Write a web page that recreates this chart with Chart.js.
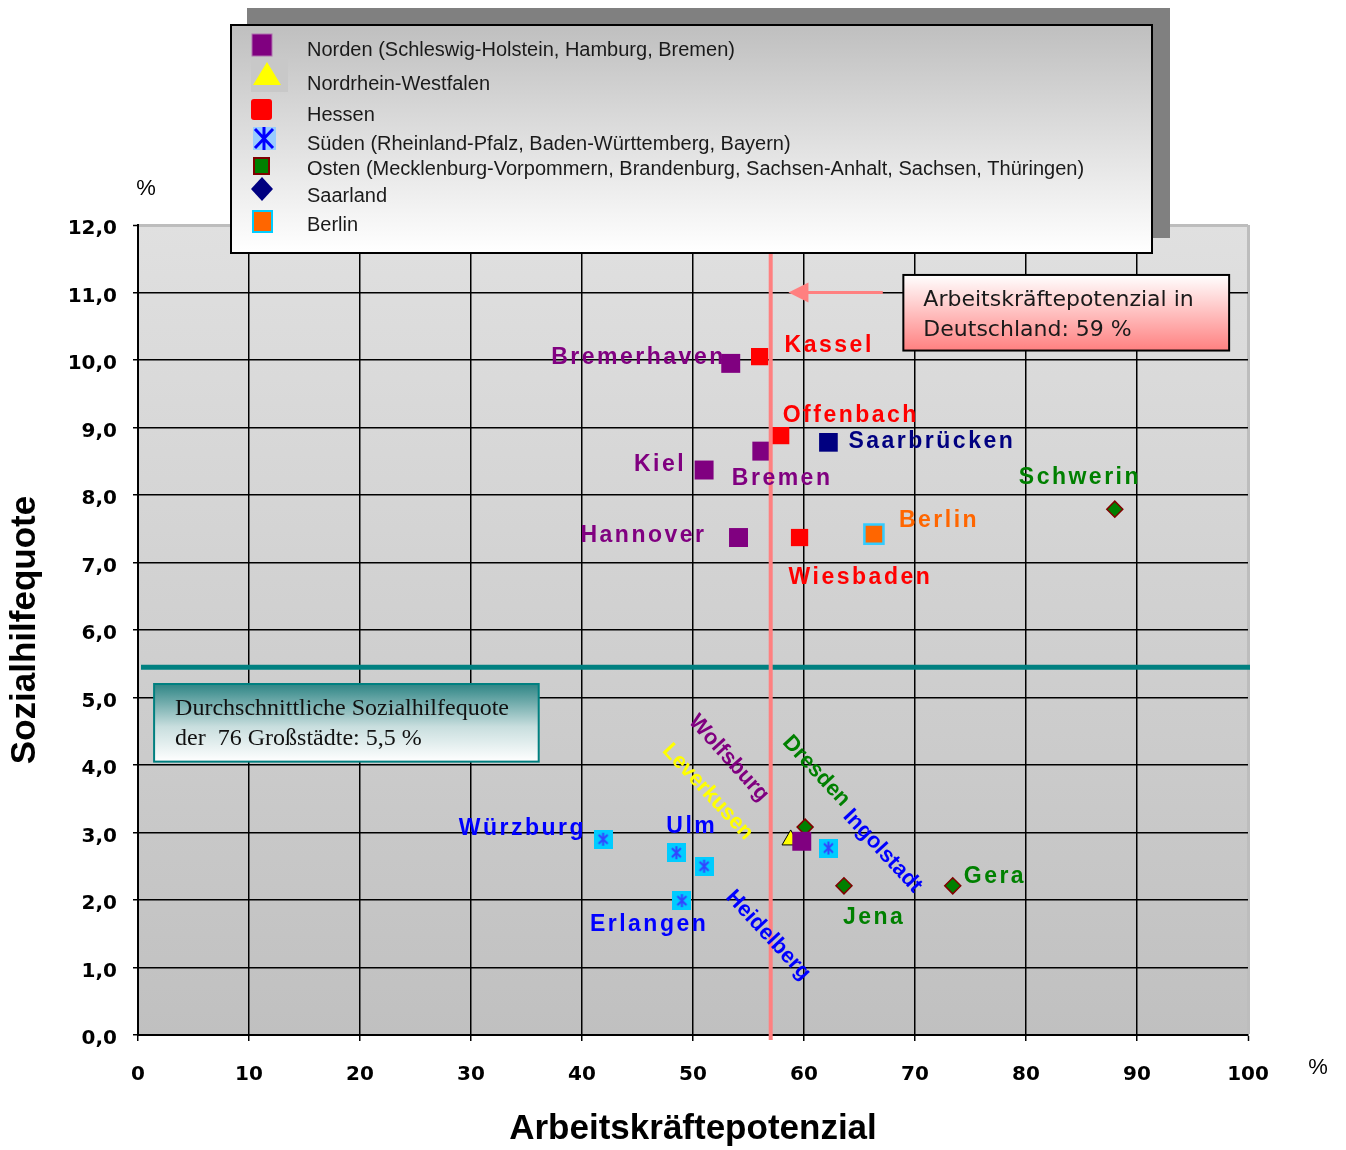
<!DOCTYPE html>
<html>
<head>
<meta charset="utf-8">
<script src="https://cdn.jsdelivr.net/npm/chart.js@4.4.1/dist/chart.umd.min.js"></script>
<style>
  html, body { margin: 0; padding: 0; background: #fff; }
  #wrap { width: 1346px; height: 1150px; }
</style>
</head>
<body>
<div id="wrap"><canvas id="myChart" width="1346" height="1150"></canvas></div>
<script>
// Norden (Schleswig-Holstein, Hamburg, Bremen)
const nordenCities = ["Bremerhaven", "Bremen", "Kiel", "Hannover", "Wolfsburg"];
const nordenX = [53.4, 56.2, 51.0, 54.1, 59.8];
const nordenY = [9.95, 8.65, 8.37, 7.37, 2.87];

// Nordrhein-Westfalen
const nrwCities = ["Leverkusen"];
const nrwX = [58.8];
const nrwY = [2.89];

// Hessen
const hessenCities = ["Kassel", "Offenbach", "Wiesbaden"];
const hessenX = [56.0, 57.9, 59.6];
const hessenY = [10.05, 8.88, 7.37];

// Süden (Rheinland-Pfalz, Baden-Württemberg, Bayern)
const suedenCities = ["Würzburg", "Ulm", "Heidelberg", "Erlangen", "Ingolstadt"];
const suedenX = [41.9, 48.5, 51.0, 49.0, 62.2];
const suedenY = [2.90, 2.70, 2.50, 1.99, 2.77];

// Osten
const ostenCities = ["Schwerin", "Dresden", "Jena", "Gera"];
const ostenX = [88.0, 60.1, 63.6, 73.4];
const ostenY = [7.79, 3.08, 2.21, 2.21];

// Saarland
const saarCities = ["Saarbrücken"];
const saarX = [62.2];
const saarY = [8.78];

// Berlin
const berlinCities = ["Berlin"];
const berlinX = [66.3];
const berlinY = [7.42];

// reference lines
const avgSozialhilfe = 5.45;
const avgArbeitskraft = 57;

const xTicks = [0, 10, 20, 30, 40, 50, 60, 70, 80, 90, 100];
const yTicks = [0, 1, 2, 3, 4, 5, 6, 7, 8, 9, 10, 11, 12];

const legendTexts = [
  "Norden (Schleswig-Holstein, Hamburg, Bremen)",
  "Nordrhein-Westfalen",
  "Hessen",
  "Süden (Rheinland-Pfalz, Baden-Württemberg, Bayern)",
  "Osten (Mecklenburg-Vorpommern, Brandenburg, Sachsen-Anhalt, Sachsen, Thüringen)",
  "Saarland",
  "Berlin",
];

// label placement relative to the point: [align, dx, dy, rotation in degrees]
const labelPlace = {
  "Bremerhaven": ["right", -5, -6, 0],
  "Kassel": ["left", 25, -11, 0],
  "Offenbach": ["left", 2, -20, 0],
  "Saarbrücken": ["left", 20, -1, 0],
  "Kiel": ["right", -18, -5, 0],
  "Bremen": ["left", -30, 28, 0],
  "Hannover": ["right", -32, -2, 0],
  "Wiesbaden": ["left", -11, 40, 0],
  "Berlin": ["left", 25, -13, 0],
  "Schwerin": ["left", -96, -32, 0],
  "Würzburg": ["right", -17, -11, 0],
  "Ulm": ["left", -10, -26, 0],
  "Erlangen": ["left", -92, 24, 0],
  "Jena": ["left", -1, 32, 0],
  "Gera": ["left", 11, -9, 0],
  "Wolfsburg": ["center", -73, -83, 48],
  "Leverkusen": ["center", -83, -48, 47],
  "Dresden": ["center", 11, -56, 47],
  "Ingolstadt": ["center", 54, 3, 47],
  "Heidelberg": ["center", 64, 69, 47],
};

function toPoints(xs, ys) {
  return xs.map((x, i) => ({ x: x, y: ys[i] }));
}

// cyan square with blue asterisk for Süden
function makeSuedenMarker() {
  const c = document.createElement("canvas");
  c.width = 19;
  c.height = 19;
  const g = c.getContext("2d");
  g.fillStyle = "#00ccff";
  g.fillRect(0, 0, 19, 19);
  g.strokeStyle = "#3344ff";
  g.lineWidth = 2;
  g.beginPath();
  g.moveTo(9.5, 3); g.lineTo(9.5, 16);
  g.moveTo(5, 5); g.lineTo(14, 14);
  g.moveTo(14, 5); g.lineTo(5, 14);
  g.stroke();
  return c;
}

const datasets = [
  {
    label: legendTexts[0], cities: nordenCities, data: toPoints(nordenX, nordenY),
    pointStyle: "rect", pointRadius: 13.4, backgroundColor: "#800080", borderWidth: 0,
    labelColor: "#800080", legendKind: "tallRect",
  },
  {
    label: legendTexts[1], cities: nrwCities, data: toPoints(nrwX, nrwY),
    pointStyle: "triangle", pointRadius: 10, backgroundColor: "#ffff00", borderColor: "#000", borderWidth: 1,
    labelColor: "#ffff00", legendKind: "triangle",
  },
  {
    label: legendTexts[2], cities: hessenCities, data: toPoints(hessenX, hessenY),
    pointStyle: "rect", pointRadius: 12.2, backgroundColor: "#ff0000", borderWidth: 0,
    labelColor: "#ff0000", legendKind: "roundRect",
  },
  {
    label: legendTexts[3], cities: suedenCities, data: toPoints(suedenX, suedenY),
    pointStyle: makeSuedenMarker(), pointRadius: 10, backgroundColor: "#00ccff", borderWidth: 0,
    labelColor: "#0000ff", legendKind: "asterisk",
  },
  {
    label: legendTexts[4], cities: ostenCities, data: toPoints(ostenX, ostenY),
    pointStyle: "rectRot", pointRadius: 8, backgroundColor: "#008000", borderColor: "#800000", borderWidth: 1.5,
    labelColor: "#008000", legendKind: "smallRect",
  },
  {
    label: legendTexts[5], cities: saarCities, data: toPoints(saarX, saarY),
    pointStyle: "rect", pointRadius: 13.2, backgroundColor: "#000080", borderWidth: 0,
    labelColor: "#000080", legendKind: "diamond",
  },
  {
    label: legendTexts[6], cities: berlinCities, data: toPoints(berlinX, berlinY),
    pointStyle: "rect", pointRadius: 13.5, backgroundColor: "#ff6600", borderColor: "#33ccff", borderWidth: 2.5,
    labelColor: "#ff6600", legendKind: "borderRect",
  },
];

const SANS = "Arial, 'Liberation Sans', sans-serif";
const WIDE = "'DejaVu Sans', Verdana, sans-serif";

function drawLegendMarker(ctx, kind, cx, cy) {
  ctx.save();
  if (kind === "tallRect") {
    ctx.fillStyle = "#800080";
    ctx.fillRect(cx - 10, cy - 11, 20, 22);
    ctx.strokeStyle = "#b070b0";
    ctx.lineWidth = 1;
    ctx.strokeRect(cx - 10, cy - 11, 20, 22);
  } else if (kind === "triangle") {
    ctx.fillStyle = "#c8c8c8";
    ctx.fillRect(cx - 11, cy - 17, 37, 33);
    ctx.fillStyle = "#ffff00";
    ctx.beginPath();
    ctx.moveTo(cx + 5, cy - 14);
    ctx.lineTo(cx + 19, cy + 9);
    ctx.lineTo(cx - 9, cy + 9);
    ctx.closePath();
    ctx.fill();
  } else if (kind === "roundRect") {
    ctx.fillStyle = "#ff0000";
    ctx.beginPath();
    ctx.roundRect(cx - 11, cy - 11, 21, 21, 3);
    ctx.fill();
  } else if (kind === "asterisk") {
    ctx.fillStyle = "#99ccff";
    ctx.fillRect(cx - 9, cy - 12, 23, 23);
    ctx.strokeStyle = "#0000ff";
    ctx.lineWidth = 3;
    ctx.beginPath();
    ctx.moveTo(cx + 2, cy - 12); ctx.lineTo(cx + 2, cy + 11);
    ctx.moveTo(cx - 7, cy - 10); ctx.lineTo(cx + 11, cy + 9);
    ctx.moveTo(cx + 11, cy - 10); ctx.lineTo(cx - 7, cy + 9);
    ctx.stroke();
  } else if (kind === "smallRect") {
    ctx.fillStyle = "#008000";
    ctx.fillRect(cx - 8, cy - 8, 15, 16);
    ctx.strokeStyle = "#800000";
    ctx.lineWidth = 2;
    ctx.strokeRect(cx - 8, cy - 8, 15, 16);
  } else if (kind === "diamond") {
    ctx.fillStyle = "#000080";
    ctx.beginPath();
    ctx.moveTo(cx, cy - 12);
    ctx.lineTo(cx + 11, cy);
    ctx.lineTo(cx, cy + 12);
    ctx.lineTo(cx - 11, cy);
    ctx.closePath();
    ctx.fill();
  } else if (kind === "borderRect") {
    ctx.fillStyle = "#ff6600";
    ctx.fillRect(cx - 9, cy - 10, 19, 21);
    ctx.strokeStyle = "#00ccff";
    ctx.lineWidth = 2;
    ctx.strokeRect(cx - 9, cy - 10, 19, 21);
  }
  ctx.restore();
}

const overlayPlugin = {
  id: "overlay",
  beforeDraw(chart) {
    const { ctx, chartArea: a } = chart;
    ctx.save();
    const g = ctx.createLinearGradient(0, a.top, 0, a.bottom);
    g.addColorStop(0, "#e0e0e0");
    g.addColorStop(1, "#c0c0c0");
    ctx.fillStyle = g;
    ctx.fillRect(a.left, a.top, a.right - a.left, a.bottom - a.top);
    ctx.restore();
  },
  afterDatasetsDraw(chart) {
    const { ctx, chartArea: a } = chart;
    const xs = chart.scales.x, ys = chart.scales.y;
    ctx.save();

    // average Sozialhilfequote line
    const yAvg = ys.getPixelForValue(avgSozialhilfe);
    ctx.strokeStyle = "#008080";
    ctx.lineWidth = 5;
    ctx.beginPath();
    ctx.moveTo(a.left + 3, yAvg);
    ctx.lineTo(a.right + 2, yAvg);
    ctx.stroke();

    // Arbeitskräftepotenzial line
    const xAvg = xs.getPixelForValue(avgArbeitskraft);
    ctx.strokeStyle = "#ff8080";
    ctx.lineWidth = 4;
    ctx.beginPath();
    ctx.moveTo(xAvg, a.top);
    ctx.lineTo(xAvg, a.bottom + 5);
    ctx.stroke();

    // arrow to the line
    const yArr = ys.getPixelForValue(11);
    const xTip = xs.getPixelForValue(58.6);
    ctx.lineWidth = 3;
    ctx.beginPath();
    ctx.moveTo(xs.getPixelForValue(67.1), yArr);
    ctx.lineTo(xTip + 18, yArr);
    ctx.stroke();
    ctx.fillStyle = "#ff8080";
    ctx.beginPath();
    ctx.moveTo(xTip, yArr);
    ctx.lineTo(xTip + 20, yArr - 10);
    ctx.lineTo(xTip + 20, yArr + 10);
    ctx.closePath();
    ctx.fill();

    // box: Arbeitskräftepotenzial in Deutschland
    let bx = xs.getPixelForValue(68.95), by = ys.getPixelForValue(11.26);
    let bw = xs.getPixelForValue(98.3) - bx, bh = ys.getPixelForValue(10.14) - by;
    let grad = ctx.createLinearGradient(0, by, 0, by + bh);
    grad.addColorStop(0, "#ffffff");
    grad.addColorStop(1, "#ff8080");
    ctx.fillStyle = grad;
    ctx.fillRect(bx, by, bw, bh);
    ctx.strokeStyle = "#000";
    ctx.lineWidth = 2;
    ctx.strokeRect(bx, by, bw, bh);
    ctx.fillStyle = "#1a1a1a";
    ctx.font = "22px " + WIDE;
    ctx.textAlign = "left";
    ctx.textBaseline = "middle";
    ctx.fillText("Arbeitskräftepotenzial in", bx + 20, by + 25);
    ctx.fillText("Deutschland: 59 %", bx + 20, by + 55);

    // box: Durchschnittliche Sozialhilfequote
    bx = xs.getPixelForValue(1.45); by = ys.getPixelForValue(5.2);
    bw = xs.getPixelForValue(36.1) - bx; bh = ys.getPixelForValue(4.05) - by;
    grad = ctx.createLinearGradient(0, by, 0, by + bh);
    grad.addColorStop(0, "#2e8585");
    grad.addColorStop(0.55, "#c8dede");
    grad.addColorStop(1, "#ffffff");
    ctx.fillStyle = grad;
    ctx.fillRect(bx, by, bw, bh);
    ctx.strokeStyle = "#008080";
    ctx.lineWidth = 2;
    ctx.strokeRect(bx, by, bw, bh);
    ctx.fillStyle = "#111";
    ctx.font = "24px 'Times New Roman', 'Liberation Serif', serif";
    ctx.fillText("Durchschnittliche Sozialhilfequote", bx + 21, by + 25);
    ctx.fillText("der  76 Großstädte: 5,5 %", bx + 21, by + 55);

    // city labels
    chart.data.datasets.forEach((ds, di) => {
      const meta = chart.getDatasetMeta(di);
      ds.cities.forEach((name, i) => {
        const pt = meta.data[i];
        const p = labelPlace[name];
        if (!pt || !p) return;
        ctx.save();
        ctx.fillStyle = ds.labelColor;
        ctx.textBaseline = "middle";
        ctx.textAlign = p[0];
        ctx.translate(pt.x + p[1], pt.y + p[2]);
        if (p[3]) {
          ctx.rotate(p[3] * Math.PI / 180);
          ctx.font = "bold 22px " + SANS;
          ctx.letterSpacing = "0px";
        } else {
          ctx.font = "bold 23px " + SANS;
          ctx.letterSpacing = "2.5px";
        }
        ctx.fillText(name, 0, 0);
        ctx.restore();
      });
    });
    ctx.restore();
  },
  afterDraw(chart) {
    const { ctx, chartArea: a } = chart;
    ctx.save();
    // legend shadow and box
    ctx.fillStyle = "#808080";
    ctx.fillRect(247, 8, 923, 230);
    const g = ctx.createLinearGradient(0, 25, 0, 253);
    g.addColorStop(0, "#bfbfbf");
    g.addColorStop(1, "#ffffff");
    ctx.fillStyle = g;
    ctx.fillRect(231, 25, 921, 228);
    ctx.strokeStyle = "#000";
    ctx.lineWidth = 2;
    ctx.strokeRect(231, 25, 921, 228);

    const rowY = [50, 84, 115, 144, 169, 196, 225];
    const markY = [45, 76, 110, 139, 166, 189, 221];
    ctx.font = "20px " + SANS;
    ctx.textAlign = "left";
    ctx.textBaseline = "middle";
    chart.data.datasets.forEach((ds, i) => {
      drawLegendMarker(ctx, ds.legendKind, 262, markY[i]);
      ctx.fillStyle = "#1a1a1a";
      ctx.fillText(ds.label, 307, rowY[i]);
    });

    // unit labels
    ctx.fillStyle = "#000";
    ctx.font = "22px " + SANS;
    ctx.textAlign = "center";
    ctx.fillText("%", a.left + 8, a.top - 36);
    ctx.fillText("%", a.right + 70, a.bottom + 33);
    ctx.restore();
  },
};

const tickFont = { family: WIDE, size: 20, weight: "bold" };
const titleFont = { family: SANS, size: 35, weight: "bold" };

const config = {
  type: "scatter",
  data: { datasets: datasets },
  options: {
    responsive: false,
    animation: false,
    layout: { padding: { top: 225, right: 98, left: 0, bottom: 0 } },
    scales: {
      x: {
        type: "linear",
        min: 0,
        max: 100,
        afterBuildTicks: (s) => { s.ticks = xTicks.map((v) => ({ value: v })); },
        afterFit: (s) => { s.height = 115; },
        grid: {
          color: (c) => (c.tick && c.tick.value === 100 ? "#bdbdbd" : "#000"),
          lineWidth: (c) => (c.tick && c.tick.value === 100 ? 3 : 1.5),
          tickColor: "#000",
          tickLength: 6,
          tickWidth: 1.5,
        },
        border: { color: "#000", width: 2 },
        ticks: { color: "#000", font: tickFont, padding: 22, maxRotation: 0 },
        title: {
          display: true,
          text: "Arbeitskräftepotenzial",
          color: "#000",
          font: titleFont,
          padding: { top: 0, bottom: 0 },
        },
      },
      y: {
        type: "linear",
        min: 0,
        max: 12,
        afterBuildTicks: (s) => { s.ticks = yTicks.map((v) => ({ value: v })); },
        afterFit: (s) => { s.width = 138; },
        grid: {
          color: (c) => (c.tick && c.tick.value === 12 ? "#bdbdbd" : "#000"),
          lineWidth: (c) => (c.tick && c.tick.value === 12 ? 3 : 1.5),
          tickColor: "#000",
          tickLength: 5,
          tickWidth: 1.5,
        },
        border: { color: "#000", width: 2 },
        ticks: {
          color: "#000",
          font: tickFont,
          padding: 16,
          labelOffset: 4,
          callback: (v) => v.toFixed(1).replace(".", ","),
        },
        title: {
          display: true,
          text: "Sozialhilfequote",
          color: "#000",
          font: titleFont,
          padding: { top: 4, bottom: 0 },
        },
      },
    },
    plugins: {
      legend: { display: false },
      tooltip: { enabled: false },
    },
  },
  plugins: [overlayPlugin],
};

const myChart = new Chart(document.getElementById("myChart"), config);
</script>
</body>
</html>
